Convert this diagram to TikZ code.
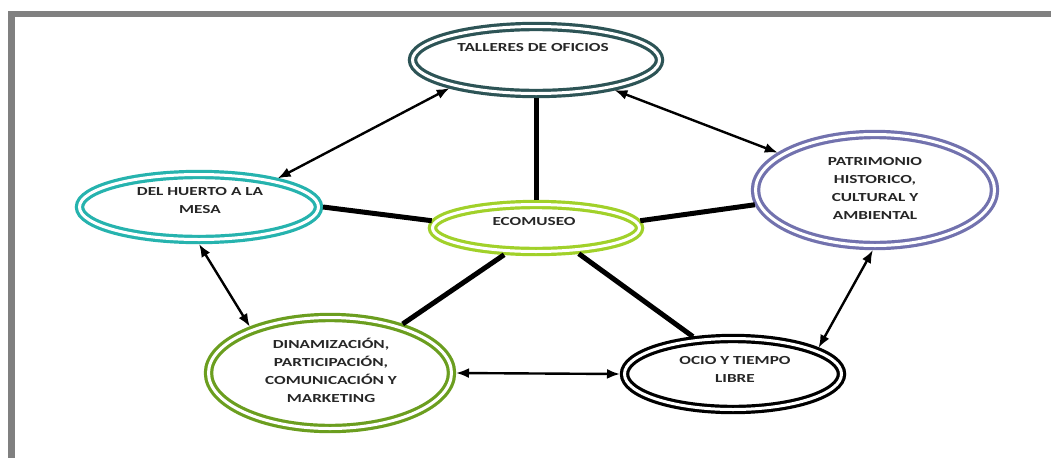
\documentclass[tikz,border=0pt]{standalone}
\usepackage{fontspec}
\newfontfamily\labfont[FakeStretch=1.4]{Carlito}
\usetikzlibrary{shapes.geometric,arrows.meta}
\definecolor{framegray}{HTML}{808080}
\definecolor{talc}{HTML}{2D5456}
\definecolor{dhc}{HTML}{26B3AE}
\definecolor{ecoc}{HTML}{A1D12A}
\definecolor{patc}{HTML}{7272AE}
\definecolor{dync}{HTML}{6B9E1F}
\definecolor{ocioc}{HTML}{000000}
\definecolor{textgray}{HTML}{262626}
\tikzset{
  ell/.style={ellipse, draw=#1, double=white, double distance=3pt, line width=3.2pt, inner sep=0pt, outer sep=4.5pt},
  txt/.style={font=\labfont\bfseries\fontsize{12.3}{18}\selectfont, text=textgray, align=center, inner sep=0pt},
  link/.style={draw=black, line width=5pt},
  biarrow/.style={draw=black, line width=2.4pt, {Latex[length=13pt,width=10pt]}-{Latex[length=13pt,width=10pt]}}
}
\begin{document}
\begin{tikzpicture}[x=1pt,y=-1pt]
\useasboundingbox (0,0) rectangle (1051,458);
\fill[white] (0,0) rectangle (1051,458);
% frame
\draw[framegray, line width=6pt] (8,14) -- (1051,14);
\draw[framegray, line width=7pt] (11.5,11) -- (11.5,458);
% ellipses
\node[ell=talc, minimum width=247pt, minimum height=67pt] (tal) at (536,60) {};
\node[ell=dhc, minimum width=239pt, minimum height=65pt] (dh) at (199,207) {};
\node[ell=ecoc, minimum width=207pt, minimum height=47pt] (eco) at (536,228) {};
\node[ell=patc, minimum width=239pt, minimum height=111pt] (pat) at (875,190) {};
\node[ell=dync, minimum width=243pt, minimum height=111pt] (dyn) at (330,373) {};
\node[ell=ocioc, minimum width=217pt, minimum height=71pt] (ocio) at (733,374) {};
% texts
\node[txt] (taltxt) at (533,48) {TALLERES DE OFICIOS};
\node[txt] (dhtxt) at (200,201) {DEL HUERTO A LA\\MESA};
\node[txt] (ecotxt) at (534,222) {ECOMUSEO};
\node[txt] (pattxt) at (875,188) {PATRIMONIO\\HISTORICO,\\CULTURAL Y\\AMBIENTAL};
\node[txt] (dyntxt) at (331,370) {DINAMIZACIÓN,\\PARTICIPACIÓN,\\COMUNICACIÓN Y\\MARKETING};
\node[txt] (ociotxt) at (735,369) {OCIO Y TIEMPO\\LIBRE};
% thick links
\draw[link] (eco.90) -- (tal.-90);
\draw[link] (eco.176) -- (dh.east);
\draw[link] (eco.4) -- (pat.187);
\draw[link] (eco.220) -- (dyn.34);
\draw[link] (eco.-31) -- (ocio.137);
% arrows
\draw[biarrow] (tal.198) -- (dh.20);
\draw[biarrow] (tal) -- (pat);
\draw[biarrow] (dh.-90) -- (dyn.150);
\draw[biarrow] (pat.-92) -- (ocio.17);
\draw[biarrow] (dyn.east) -- (ocio.west);
\end{tikzpicture}
\end{document}
